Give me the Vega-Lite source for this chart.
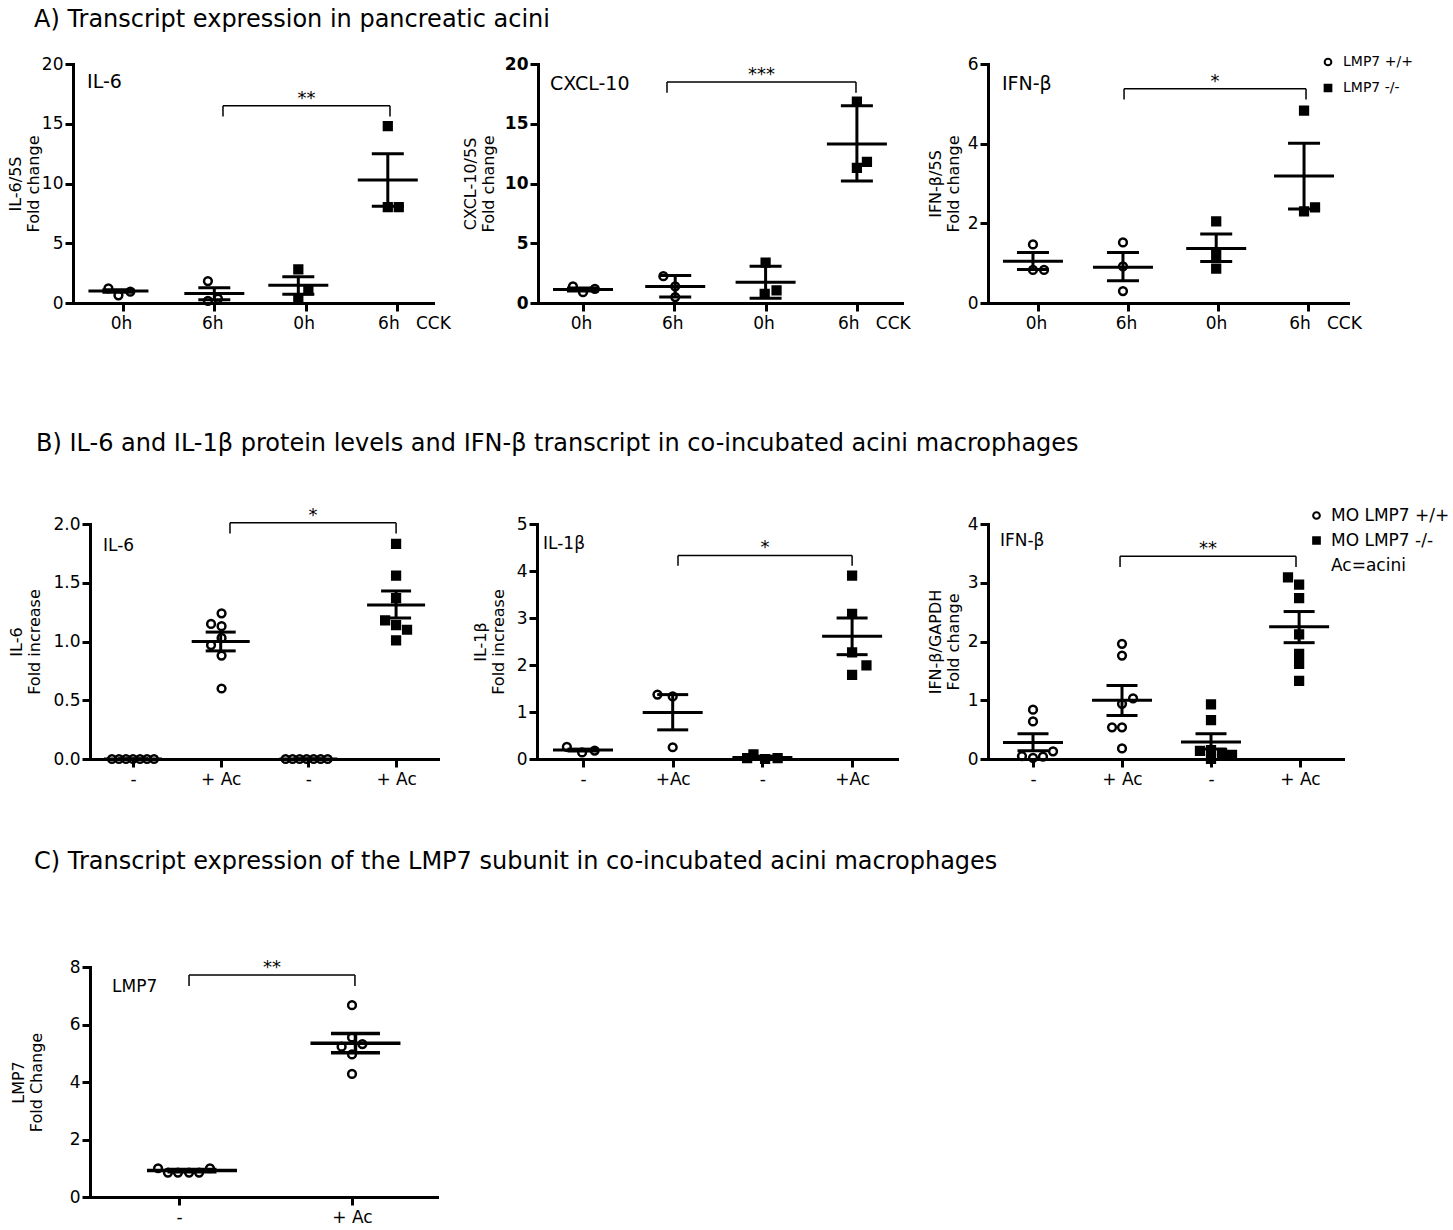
{
  "$schema": "https://vega.github.io/schema/vega-lite/v6.json",
  "background": "white",
  "padding": {"left": 0, "top": 8, "right": 5, "bottom": 5},
  "config": {
    "font": "DejaVu Sans",
    "view": {"stroke": null},
    "axis": {"domainColor": "black", "domainWidth": 3, "domainCap": "square", "tickColor": "black", "tickWidth": 3, "tickSize": 8, "labelColor": "black", "titleColor": "black", "grid": false, "labelFontSize": 17, "titleFontSize": 16, "titleFontWeight": "normal", "titleLineHeight": 18, "labelPadding": 3},
    "title": {"fontSize": 24, "fontWeight": "normal", "color": "black", "anchor": "start"},
    "legend": {"labelColor": "black"}
  },
  "title": {"text": "A) Transcript expression in pancreatic acini", "anchor": "start", "fontSize": 24, "offset": 23, "dx": 34},
  "spacing": 50,
  "resolve": {"scale": {"shape": "independent", "fill": "independent", "stroke": "independent"}},
  "datasets": {
    "a1_pts": [
      {"x": 0.84, "y": 1.23, "geno": "LMP7 +/+"}, {"x": 0.95, "y": 0.64, "geno": "LMP7 +/+"}, {"x": 1.08, "y": 0.95, "geno": "LMP7 +/+"},
      {"x": 1.93, "y": 1.84, "geno": "LMP7 +/+"}, {"x": 1.93, "y": 0.17, "geno": "LMP7 +/+"}, {"x": 2.04, "y": 0.36, "geno": "LMP7 +/+"},
      {"x": 2.92, "y": 2.82, "geno": "LMP7 -/-"}, {"x": 3.03, "y": 1.06, "geno": "LMP7 -/-"}, {"x": 2.92, "y": 0.31, "geno": "LMP7 -/-"},
      {"x": 3.9, "y": 14.8, "geno": "LMP7 -/-"}, {"x": 3.9, "y": 8.03, "geno": "LMP7 -/-"}, {"x": 4.02, "y": 8.03, "geno": "LMP7 -/-"}
    ],
    "a1_sum": [
      {"x": 0.95, "mean": 1.0, "lo": 0.9, "hi": 1.1}, {"x": 2.0, "mean": 0.79, "lo": 0.28, "hi": 1.28},
      {"x": 2.92, "mean": 1.48, "lo": 0.73, "hi": 2.2}, {"x": 3.9, "mean": 10.3, "lo": 8.09, "hi": 12.5}
    ],
    "a1_br": [{"x1": 2.095, "x2": 3.924, "top": 16.5, "bottom": 15.6, "stars": "**"}],
    "a2_pts": [
      {"x": 0.89, "y": 1.4, "geno": "LMP7 +/+"}, {"x": 1.0, "y": 0.9, "geno": "LMP7 +/+"}, {"x": 1.13, "y": 1.18, "geno": "LMP7 +/+"},
      {"x": 1.88, "y": 2.24, "geno": "LMP7 +/+"}, {"x": 2.01, "y": 1.4, "geno": "LMP7 +/+"}, {"x": 2.01, "y": 0.5, "geno": "LMP7 +/+"},
      {"x": 3.0, "y": 3.37, "geno": "LMP7 -/-"}, {"x": 3.12, "y": 1.06, "geno": "LMP7 -/-"}, {"x": 2.99, "y": 0.76, "geno": "LMP7 -/-"},
      {"x": 4.0, "y": 16.85, "geno": "LMP7 -/-"}, {"x": 4.11, "y": 11.8, "geno": "LMP7 -/-"}, {"x": 4.0, "y": 11.3, "geno": "LMP7 -/-"}
    ],
    "a2_sum": [
      {"x": 1.0, "mean": 1.12, "lo": 1.0, "hi": 1.25}, {"x": 2.01, "mean": 1.38, "lo": 0.5, "hi": 2.3},
      {"x": 3.0, "mean": 1.74, "lo": 0.39, "hi": 3.08}, {"x": 4.0, "mean": 13.3, "lo": 10.2, "hi": 16.5}
    ],
    "a2_br": [{"x1": 1.92, "x2": 3.99, "top": 18.5, "bottom": 17.6, "stars": "***"}],
    "a3_pts": [
      {"x": 0.944, "y": 1.47, "geno": "LMP7 +/+"}, {"x": 0.944, "y": 0.83, "geno": "LMP7 +/+"}, {"x": 1.067, "y": 0.83, "geno": "LMP7 +/+"},
      {"x": 1.944, "y": 1.52, "geno": "LMP7 +/+"}, {"x": 1.944, "y": 0.92, "geno": "LMP7 +/+"}, {"x": 1.944, "y": 0.3, "geno": "LMP7 +/+"},
      {"x": 2.98, "y": 2.05, "geno": "LMP7 -/-"}, {"x": 2.98, "y": 1.21, "geno": "LMP7 -/-"}, {"x": 2.98, "y": 0.86, "geno": "LMP7 -/-"},
      {"x": 3.956, "y": 4.83, "geno": "LMP7 -/-"}, {"x": 3.956, "y": 2.3, "geno": "LMP7 -/-"}, {"x": 4.078, "y": 2.4, "geno": "LMP7 -/-"}
    ],
    "a3_sum": [
      {"x": 0.944, "mean": 1.05, "lo": 0.84, "hi": 1.27}, {"x": 1.944, "mean": 0.9, "lo": 0.56, "hi": 1.27},
      {"x": 2.98, "mean": 1.37, "lo": 1.04, "hi": 1.73}, {"x": 3.956, "mean": 3.19, "lo": 2.36, "hi": 4.01}
    ],
    "a3_br": [{"x1": 1.956, "x2": 3.978, "top": 5.38, "bottom": 5.11, "stars": "*"}],
    "b1_pts": [
      {"x": 0.76, "y": 0, "geno": "MO LMP7 +/+"}, {"x": 0.84, "y": 0, "geno": "MO LMP7 +/+"}, {"x": 0.92, "y": 0, "geno": "MO LMP7 +/+"}, {"x": 1.0, "y": 0, "geno": "MO LMP7 +/+"}, {"x": 1.08, "y": 0, "geno": "MO LMP7 +/+"}, {"x": 1.16, "y": 0, "geno": "MO LMP7 +/+"}, {"x": 1.24, "y": 0, "geno": "MO LMP7 +/+"},
      {"x": 2.01, "y": 1.24, "geno": "MO LMP7 +/+"}, {"x": 1.89, "y": 1.15, "geno": "MO LMP7 +/+"}, {"x": 2.01, "y": 1.13, "geno": "MO LMP7 +/+"}, {"x": 2.01, "y": 1.03, "geno": "MO LMP7 +/+"}, {"x": 1.89, "y": 0.97, "geno": "MO LMP7 +/+"}, {"x": 2.01, "y": 0.88, "geno": "MO LMP7 +/+"}, {"x": 2.01, "y": 0.6, "geno": "MO LMP7 +/+"},
      {"x": 2.74, "y": 0, "geno": "MO LMP7 +/+"}, {"x": 2.82, "y": 0, "geno": "MO LMP7 +/+"}, {"x": 2.9, "y": 0, "geno": "MO LMP7 +/+"}, {"x": 2.98, "y": 0, "geno": "MO LMP7 +/+"}, {"x": 3.06, "y": 0, "geno": "MO LMP7 +/+"}, {"x": 3.14, "y": 0, "geno": "MO LMP7 +/+"}, {"x": 3.22, "y": 0, "geno": "MO LMP7 +/+"},
      {"x": 4.0, "y": 1.83, "geno": "MO LMP7 -/-"}, {"x": 4.0, "y": 1.56, "geno": "MO LMP7 -/-"}, {"x": 4.0, "y": 1.37, "geno": "MO LMP7 -/-"}, {"x": 3.875, "y": 1.18, "geno": "MO LMP7 -/-"}, {"x": 4.0, "y": 1.14, "geno": "MO LMP7 -/-"}, {"x": 4.125, "y": 1.1, "geno": "MO LMP7 -/-"}, {"x": 4.0, "y": 1.01, "geno": "MO LMP7 -/-"}
    ],
    "b1_sum": [
      {"x": 1.0, "mean": 0, "lo": 0, "hi": 0}, {"x": 2.0, "mean": 1.0, "lo": 0.92, "hi": 1.08},
      {"x": 3.0, "mean": 0, "lo": 0, "hi": 0}, {"x": 4.0, "mean": 1.31, "lo": 1.2, "hi": 1.43}
    ],
    "b1_br": [{"x1": 2.106, "x2": 4.0, "top": 2.01, "bottom": 1.92, "stars": "*"}],
    "b2_pts": [
      {"x": 0.82, "y": 0.26, "geno": "MO LMP7 +/+"}, {"x": 0.99, "y": 0.14, "geno": "MO LMP7 +/+"}, {"x": 1.13, "y": 0.18, "geno": "MO LMP7 +/+"},
      {"x": 1.83, "y": 1.37, "geno": "MO LMP7 +/+"}, {"x": 2.0, "y": 1.33, "geno": "MO LMP7 +/+"}, {"x": 2.0, "y": 0.25, "geno": "MO LMP7 +/+"},
      {"x": 2.83, "y": 0.02, "geno": "MO LMP7 -/-"}, {"x": 2.9, "y": 0.1, "geno": "MO LMP7 -/-"}, {"x": 3.03, "y": 0.0, "geno": "MO LMP7 -/-"}, {"x": 3.17, "y": 0.02, "geno": "MO LMP7 -/-"},
      {"x": 4.0, "y": 3.9, "geno": "MO LMP7 -/-"}, {"x": 4.0, "y": 3.09, "geno": "MO LMP7 -/-"}, {"x": 4.0, "y": 2.27, "geno": "MO LMP7 -/-"}, {"x": 4.16, "y": 1.99, "geno": "MO LMP7 -/-"}, {"x": 4.0, "y": 1.79, "geno": "MO LMP7 -/-"}
    ],
    "b2_sum": [
      {"x": 1.0, "mean": 0.19, "lo": 0.17, "hi": 0.21}, {"x": 2.0, "mean": 0.99, "lo": 0.62, "hi": 1.37},
      {"x": 3.0, "mean": 0.03, "lo": 0.0, "hi": 0.06}, {"x": 4.0, "mean": 2.61, "lo": 2.22, "hi": 3.0}
    ],
    "b2_br": [{"x1": 2.059, "x2": 4.0, "top": 4.33, "bottom": 4.11, "stars": "*"}],
    "b3_pts": [
      {"x": 1.0, "y": 0.84, "geno": "MO LMP7 +/+"}, {"x": 1.0, "y": 0.64, "geno": "MO LMP7 +/+"}, {"x": 1.225, "y": 0.13, "geno": "MO LMP7 +/+"}, {"x": 0.876, "y": 0.05, "geno": "MO LMP7 +/+"}, {"x": 1.112, "y": 0.04, "geno": "MO LMP7 +/+"}, {"x": 1.0, "y": 0.02, "geno": "MO LMP7 +/+"},
      {"x": 2.0, "y": 1.96, "geno": "MO LMP7 +/+"}, {"x": 2.0, "y": 1.76, "geno": "MO LMP7 +/+"}, {"x": 2.124, "y": 1.03, "geno": "MO LMP7 +/+"}, {"x": 2.0, "y": 0.94, "geno": "MO LMP7 +/+"}, {"x": 1.888, "y": 0.54, "geno": "MO LMP7 +/+"}, {"x": 2.0, "y": 0.54, "geno": "MO LMP7 +/+"}, {"x": 2.0, "y": 0.18, "geno": "MO LMP7 +/+"},
      {"x": 3.0, "y": 0.93, "geno": "MO LMP7 -/-"}, {"x": 3.0, "y": 0.66, "geno": "MO LMP7 -/-"}, {"x": 2.876, "y": 0.14, "geno": "MO LMP7 -/-"}, {"x": 3.0, "y": 0.15, "geno": "MO LMP7 -/-"}, {"x": 3.124, "y": 0.1, "geno": "MO LMP7 -/-"}, {"x": 3.236, "y": 0.07, "geno": "MO LMP7 -/-"}, {"x": 3.0, "y": 0.0, "geno": "MO LMP7 -/-"},
      {"x": 3.865, "y": 3.09, "geno": "MO LMP7 -/-"}, {"x": 3.99, "y": 2.97, "geno": "MO LMP7 -/-"}, {"x": 3.99, "y": 2.74, "geno": "MO LMP7 -/-"}, {"x": 3.99, "y": 2.12, "geno": "MO LMP7 -/-"}, {"x": 3.99, "y": 1.79, "geno": "MO LMP7 -/-"}, {"x": 3.99, "y": 1.62, "geno": "MO LMP7 -/-"}, {"x": 3.99, "y": 1.33, "geno": "MO LMP7 -/-"}
    ],
    "b3_sum": [
      {"x": 1.0, "mean": 0.28, "lo": 0.14, "hi": 0.43}, {"x": 2.0, "mean": 1.0, "lo": 0.74, "hi": 1.25},
      {"x": 3.0, "mean": 0.29, "lo": 0.17, "hi": 0.43}, {"x": 3.99, "mean": 2.25, "lo": 1.98, "hi": 2.51}
    ],
    "b3_br": [{"x1": 1.978, "x2": 3.955, "top": 3.45, "bottom": 3.27, "stars": "**"}],
    "c1_pts": [
      {"x": 0.879, "y": 1.0, "geno": "LMP7 +/+"}, {"x": 0.936, "y": 0.85, "geno": "LMP7 +/+"}, {"x": 0.994, "y": 0.85, "geno": "LMP7 +/+"}, {"x": 1.058, "y": 0.85, "geno": "LMP7 +/+"}, {"x": 1.116, "y": 0.85, "geno": "LMP7 +/+"}, {"x": 1.179, "y": 1.0, "geno": "LMP7 +/+"},
      {"x": 2.0, "y": 6.67, "geno": "LMP7 +/+"}, {"x": 2.0, "y": 5.55, "geno": "LMP7 +/+"}, {"x": 1.94, "y": 5.23, "geno": "LMP7 +/+"}, {"x": 2.06, "y": 5.32, "geno": "LMP7 +/+"}, {"x": 2.0, "y": 4.96, "geno": "LMP7 +/+"}, {"x": 2.0, "y": 4.28, "geno": "LMP7 +/+"}
    ],
    "c1_sum": [
      {"x": 1.075, "mean": 0.92, "lo": 0.88, "hi": 0.96}, {"x": 2.02, "mean": 5.35, "lo": 5.02, "hi": 5.69}
    ],
    "c1_br": [{"x1": 1.058, "x2": 2.017, "top": 7.72, "bottom": 7.34, "stars": "**"}]
  },
  "vconcat": [
    {
      "bounds": "flush",
      "spacing": 0,
      "title": {"text": "B)  IL-6 and IL-1β protein levels and IFN-β transcript in co-incubated acini macrophages", "orient": "bottom", "anchor": "start", "fontSize": 24, "offset": 101, "dx": 36},
      "resolve": {"scale": {"shape": "independent", "fill": "independent", "stroke": "independent"}},
      "hconcat": [
        {"width": 73, "height": 1, "view": {"fill": "transparent", "stroke": null}, "data": {"values": []}, "mark": {"type": "point"}, "encoding": {}},
        {
          "width": 360, "height": 239,
          "layer": [
            {"data": {"name": "a1_pts"}, "mark": {"type": "point", "size": 60, "strokeWidth": 2.5, "opacity": 1},
             "encoding": {
               "x": {"field": "x", "type": "quantitative", "scale": {"domain": [0.4524, 4.395], "nice": false, "zero": false},
                     "axis": {"values": [1, 2, 3, 4], "title": null, "labelExpr": "datum.value == 1 ? '0h' : datum.value == 2 ? '6h' : datum.value == 3 ? '0h' : '6h\u00a0\u00a0\u00a0CCK'", "labelOffset": {"condition": {"test": "datum.value == 4", "value": 17}, "value": -2}, "labelOverlap": false, "labelFlush": false, "labelBound": false, "labelPadding": 4}},
               "y": {"field": "y", "type": "quantitative", "scale": {"domain": [0, 20], "nice": false}, "axis": {"values": [0, 5, 10, 15, 20], "format": "d", "title": ["IL-6/5S", "Fold change"], "titlePadding": 0, "labelPadding": 2}},
               "shape": {"field": "geno", "type": "nominal", "scale": {"domain": ["LMP7 +/+", "LMP7 -/-"], "range": ["circle", "square"]}, "legend": null},
               "fill": {"field": "geno", "type": "nominal", "scale": {"domain": ["LMP7 +/+", "LMP7 -/-"], "range": ["transparent", "black"]}, "legend": null},
               "stroke": {"field": "geno", "type": "nominal", "scale": {"domain": ["LMP7 +/+", "LMP7 -/-"], "range": ["black", "black"]}, "legend": null}
             }},
            {"data": {"name": "a1_sum"}, "mark": {"type": "tick", "orient": "horizontal", "size": 60, "thickness": 3, "color": "black", "opacity": 1},
             "encoding": {"x": {"field": "x", "type": "quantitative"}, "y": {"field": "mean", "type": "quantitative"}}},
            {"data": {"name": "a1_sum"}, "mark": {"type": "rule", "strokeWidth": 3, "color": "black"},
             "encoding": {"x": {"field": "x", "type": "quantitative"}, "y": {"field": "lo", "type": "quantitative"}, "y2": {"field": "hi"}}},
            {"data": {"name": "a1_sum"}, "transform": [{"fold": ["lo", "hi"], "as": ["end", "v"]}], "mark": {"type": "tick", "orient": "horizontal", "size": 32, "thickness": 3, "color": "black", "opacity": 1},
             "encoding": {"x": {"field": "x", "type": "quantitative"}, "y": {"field": "v", "type": "quantitative"}}},
            {"data": {"name": "a1_br"}, "mark": {"type": "rule", "strokeWidth": 1.5, "color": "black"},
             "encoding": {"x": {"field": "x1", "type": "quantitative"}, "x2": {"field": "x2"}, "y": {"field": "top", "type": "quantitative"}}},
            {"data": {"name": "a1_br"}, "transform": [{"fold": ["x1", "x2"], "as": ["end", "bx"]}], "mark": {"type": "rule", "strokeWidth": 1.5, "color": "black"},
             "encoding": {"x": {"field": "bx", "type": "quantitative"}, "y": {"field": "top", "type": "quantitative"}, "y2": {"field": "bottom"}}},
            {"data": {"name": "a1_br"}, "transform": [{"calculate": "(datum.x1 + datum.x2) / 2", "as": "xm"}], "mark": {"type": "text", "fontSize": 18, "baseline": "alphabetic", "dy": -2},
             "encoding": {"x": {"field": "xm", "type": "quantitative"}, "y": {"field": "top", "type": "quantitative"}, "text": {"field": "stars"}}},
            {"data": {"name": "a1_br"}, "mark": {"type": "text", "text": "IL-6", "fontSize": 19, "align": "left", "baseline": "alphabetic"},
             "encoding": {"x": {"datum": 0.606, "type": "quantitative"}, "y": {"datum": 17.99, "type": "quantitative"}}}
          ]
        },
        {"width": 105, "height": 1, "view": {"fill": "transparent", "stroke": null}, "data": {"values": []}, "mark": {"type": "point"}, "encoding": {}},
        {
          "width": 364, "height": 239,
          "layer": [
            {"data": {"name": "a2_pts"}, "mark": {"type": "point", "size": 60, "strokeWidth": 2.5, "opacity": 1},
             "encoding": {
               "x": {"field": "x", "type": "quantitative", "scale": {"domain": [0.5071, 4.494], "nice": false, "zero": false},
                     "axis": {"values": [1, 2, 3, 4], "title": null, "labelExpr": "datum.value == 1 ? '0h' : datum.value == 2 ? '6h' : datum.value == 3 ? '0h' : '6h\u00a0\u00a0\u00a0CCK'", "labelOffset": {"condition": {"test": "datum.value == 4", "value": 17}, "value": -2}, "labelOverlap": false, "labelFlush": false, "labelBound": false, "labelPadding": 4}},
               "y": {"field": "y", "type": "quantitative", "scale": {"domain": [0, 20], "nice": false}, "axis": {"values": [0, 5, 10, 15, 20], "format": "d", "title": ["CXCL-10/5S", "Fold change"], "titlePadding": 8, "labelPadding": 2, "labelFontWeight": "bold"}},
               "shape": {"field": "geno", "type": "nominal", "scale": {"domain": ["LMP7 +/+", "LMP7 -/-"], "range": ["circle", "square"]}, "legend": null},
               "fill": {"field": "geno", "type": "nominal", "scale": {"domain": ["LMP7 +/+", "LMP7 -/-"], "range": ["transparent", "black"]}, "legend": null},
               "stroke": {"field": "geno", "type": "nominal", "scale": {"domain": ["LMP7 +/+", "LMP7 -/-"], "range": ["black", "black"]}, "legend": null}
             }},
            {"data": {"name": "a2_sum"}, "mark": {"type": "tick", "orient": "horizontal", "size": 60, "thickness": 3, "color": "black", "opacity": 1},
             "encoding": {"x": {"field": "x", "type": "quantitative"}, "y": {"field": "mean", "type": "quantitative"}}},
            {"data": {"name": "a2_sum"}, "mark": {"type": "rule", "strokeWidth": 3, "color": "black"},
             "encoding": {"x": {"field": "x", "type": "quantitative"}, "y": {"field": "lo", "type": "quantitative"}, "y2": {"field": "hi"}}},
            {"data": {"name": "a2_sum"}, "transform": [{"fold": ["lo", "hi"], "as": ["end", "v"]}], "mark": {"type": "tick", "orient": "horizontal", "size": 32, "thickness": 3, "color": "black", "opacity": 1},
             "encoding": {"x": {"field": "x", "type": "quantitative"}, "y": {"field": "v", "type": "quantitative"}}},
            {"data": {"name": "a2_br"}, "mark": {"type": "rule", "strokeWidth": 1.5, "color": "black"},
             "encoding": {"x": {"field": "x1", "type": "quantitative"}, "x2": {"field": "x2"}, "y": {"field": "top", "type": "quantitative"}}},
            {"data": {"name": "a2_br"}, "transform": [{"fold": ["x1", "x2"], "as": ["end", "bx"]}], "mark": {"type": "rule", "strokeWidth": 1.5, "color": "black"},
             "encoding": {"x": {"field": "bx", "type": "quantitative"}, "y": {"field": "top", "type": "quantitative"}, "y2": {"field": "bottom"}}},
            {"data": {"name": "a2_br"}, "transform": [{"calculate": "(datum.x1 + datum.x2) / 2", "as": "xm"}], "mark": {"type": "text", "fontSize": 18, "baseline": "alphabetic", "dy": -2},
             "encoding": {"x": {"field": "xm", "type": "quantitative"}, "y": {"field": "top", "type": "quantitative"}, "text": {"field": "stars"}}},
            {"data": {"name": "a2_br"}, "mark": {"type": "text", "text": "CXCL-10", "fontSize": 19, "align": "left", "baseline": "alphabetic"},
             "encoding": {"x": {"datum": 0.639, "type": "quantitative"}, "y": {"datum": 17.82, "type": "quantitative"}}}
          ]
        },
        {"width": 86, "height": 1, "view": {"fill": "transparent", "stroke": null}, "data": {"values": []}, "mark": {"type": "point"}, "encoding": {}},
        {
          "width": 360, "height": 239,
          "layer": [
            {"data": {"name": "a3_pts"}, "mark": {"type": "point", "size": 60, "strokeWidth": 2.5, "opacity": 1},
             "encoding": {
               "x": {"field": "x", "type": "quantitative", "scale": {"domain": [0.4444, 4.4444], "nice": false, "zero": false},
                     "axis": {"values": [1, 2, 3, 4], "title": null, "labelExpr": "datum.value == 1 ? '0h' : datum.value == 2 ? '6h' : datum.value == 3 ? '0h' : '6h\u00a0\u00a0\u00a0CCK'", "labelOffset": {"condition": {"test": "datum.value == 4", "value": 17}, "value": -2}, "labelOverlap": false, "labelFlush": false, "labelBound": false, "labelPadding": 4}},
               "y": {"field": "y", "type": "quantitative", "scale": {"domain": [0, 6], "nice": false}, "axis": {"values": [0, 2, 4, 6], "format": "d", "title": ["IFN-β/5S", "Fold change"], "titlePadding": 6, "labelPadding": 2}},
               "shape": {"field": "geno", "type": "nominal", "scale": {"domain": ["LMP7 +/+", "LMP7 -/-"], "range": ["circle", "square"]},
                         "legend": {"title": null, "orient": "none", "legendX": 333, "legendY": -9, "labelFontSize": 14, "symbolSize": 45, "symbolStrokeWidth": 2, "rowPadding": 10, "padding": 0, "labelOffset": 8}},
               "fill": {"field": "geno", "type": "nominal", "scale": {"domain": ["LMP7 +/+", "LMP7 -/-"], "range": ["transparent", "black"]},
                         "legend": {"title": null, "orient": "none", "legendX": 333, "legendY": -9, "labelFontSize": 14, "symbolSize": 45, "symbolStrokeWidth": 2, "rowPadding": 10, "padding": 0, "labelOffset": 8}},
               "stroke": {"field": "geno", "type": "nominal", "scale": {"domain": ["LMP7 +/+", "LMP7 -/-"], "range": ["black", "black"]},
                         "legend": {"title": null, "orient": "none", "legendX": 333, "legendY": -9, "labelFontSize": 14, "symbolSize": 45, "symbolStrokeWidth": 2, "rowPadding": 10, "padding": 0, "labelOffset": 8}}
             }},
            {"data": {"name": "a3_sum"}, "mark": {"type": "tick", "orient": "horizontal", "size": 60, "thickness": 3, "color": "black", "opacity": 1},
             "encoding": {"x": {"field": "x", "type": "quantitative"}, "y": {"field": "mean", "type": "quantitative"}}},
            {"data": {"name": "a3_sum"}, "mark": {"type": "rule", "strokeWidth": 3, "color": "black"},
             "encoding": {"x": {"field": "x", "type": "quantitative"}, "y": {"field": "lo", "type": "quantitative"}, "y2": {"field": "hi"}}},
            {"data": {"name": "a3_sum"}, "transform": [{"fold": ["lo", "hi"], "as": ["end", "v"]}], "mark": {"type": "tick", "orient": "horizontal", "size": 32, "thickness": 3, "color": "black", "opacity": 1},
             "encoding": {"x": {"field": "x", "type": "quantitative"}, "y": {"field": "v", "type": "quantitative"}}},
            {"data": {"name": "a3_br"}, "mark": {"type": "rule", "strokeWidth": 1.5, "color": "black"},
             "encoding": {"x": {"field": "x1", "type": "quantitative"}, "x2": {"field": "x2"}, "y": {"field": "top", "type": "quantitative"}}},
            {"data": {"name": "a3_br"}, "transform": [{"fold": ["x1", "x2"], "as": ["end", "bx"]}], "mark": {"type": "rule", "strokeWidth": 1.5, "color": "black"},
             "encoding": {"x": {"field": "bx", "type": "quantitative"}, "y": {"field": "top", "type": "quantitative"}, "y2": {"field": "bottom"}}},
            {"data": {"name": "a3_br"}, "transform": [{"calculate": "(datum.x1 + datum.x2) / 2", "as": "xm"}], "mark": {"type": "text", "fontSize": 18, "baseline": "alphabetic", "dy": -2},
             "encoding": {"x": {"field": "xm", "type": "quantitative"}, "y": {"field": "top", "type": "quantitative"}, "text": {"field": "stars"}}},
            {"data": {"name": "a3_br"}, "mark": {"type": "text", "text": "IFN-β", "fontSize": 19, "align": "left", "baseline": "alphabetic"},
             "encoding": {"x": {"datum": 0.6, "type": "quantitative"}, "y": {"datum": 5.35, "type": "quantitative"}}}
          ]
        }
      ]
    },
    {
      "spacing": 63,
      "resolve": {"scale": {"shape": "independent", "fill": "independent", "stroke": "independent"}},
      "vconcat": [
        {
          "bounds": "flush",
          "spacing": 0,
          "resolve": {"scale": {"shape": "independent", "fill": "independent", "stroke": "independent"}},
          "hconcat": [
            {"width": 90, "height": 1, "view": {"fill": "transparent", "stroke": null}, "data": {"values": []}, "mark": {"type": "point"}, "encoding": {}},
            {
              "width": 348, "height": 235,
              "layer": [
                {"data": {"name": "b1_pts"}, "mark": {"type": "point", "size": 60, "strokeWidth": 2.5, "opacity": 1},
                 "encoding": {
                   "x": {"field": "x", "type": "quantitative", "scale": {"domain": [0.5097, 4.478], "nice": false, "zero": false},
                         "axis": {"values": [1, 2, 3, 4], "title": null, "labelExpr": "datum.value == 2 || datum.value == 4 ? '+ Ac' : '-'", "labelOverlap": false, "labelFlush": false, "labelBound": false, "labelPadding": 4}},
                   "y": {"field": "y", "type": "quantitative", "scale": {"domain": [0, 2], "nice": false}, "axis": {"values": [0, 0.5, 1, 1.5, 2], "format": ".1f", "title": ["IL-6", "Fold increase"], "titlePadding": 10, "labelPadding": 2}},
                   "shape": {"field": "geno", "type": "nominal", "scale": {"domain": ["MO LMP7 +/+", "MO LMP7 -/-"], "range": ["circle", "square"]}, "legend": null},
                   "fill": {"field": "geno", "type": "nominal", "scale": {"domain": ["MO LMP7 +/+", "MO LMP7 -/-"], "range": ["transparent", "black"]}, "legend": null},
                   "stroke": {"field": "geno", "type": "nominal", "scale": {"domain": ["MO LMP7 +/+", "MO LMP7 -/-"], "range": ["black", "black"]}, "legend": null}
                 }},
                {"data": {"name": "b1_sum"}, "mark": {"type": "tick", "orient": "horizontal", "size": 58, "thickness": 3, "color": "black", "opacity": 1},
                 "encoding": {"x": {"field": "x", "type": "quantitative"}, "y": {"field": "mean", "type": "quantitative"}}},
                {"data": {"name": "b1_sum"}, "mark": {"type": "rule", "strokeWidth": 3, "color": "black"},
                 "encoding": {"x": {"field": "x", "type": "quantitative"}, "y": {"field": "lo", "type": "quantitative"}, "y2": {"field": "hi"}}},
                {"data": {"name": "b1_sum"}, "transform": [{"fold": ["lo", "hi"], "as": ["end", "v"]}], "mark": {"type": "tick", "orient": "horizontal", "size": 30, "thickness": 3, "color": "black", "opacity": 1},
                 "encoding": {"x": {"field": "x", "type": "quantitative"}, "y": {"field": "v", "type": "quantitative"}}},
                {"data": {"name": "b1_br"}, "mark": {"type": "rule", "strokeWidth": 1.5, "color": "black"},
                 "encoding": {"x": {"field": "x1", "type": "quantitative"}, "x2": {"field": "x2"}, "y": {"field": "top", "type": "quantitative"}}},
                {"data": {"name": "b1_br"}, "transform": [{"fold": ["x1", "x2"], "as": ["end", "bx"]}], "mark": {"type": "rule", "strokeWidth": 1.5, "color": "black"},
                 "encoding": {"x": {"field": "bx", "type": "quantitative"}, "y": {"field": "top", "type": "quantitative"}, "y2": {"field": "bottom"}}},
                {"data": {"name": "b1_br"}, "transform": [{"calculate": "(datum.x1 + datum.x2) / 2", "as": "xm"}], "mark": {"type": "text", "fontSize": 18, "baseline": "alphabetic", "dy": -2},
                 "encoding": {"x": {"field": "xm", "type": "quantitative"}, "y": {"field": "top", "type": "quantitative"}, "text": {"field": "stars"}}},
                {"data": {"name": "b1_br"}, "mark": {"type": "text", "text": "IL-6", "fontSize": 17, "align": "left", "baseline": "alphabetic"},
                 "encoding": {"x": {"datum": 0.658, "type": "quantitative"}, "y": {"datum": 1.77, "type": "quantitative"}}}
              ]
            },
            {"width": 99, "height": 1, "view": {"fill": "transparent", "stroke": null}, "data": {"values": []}, "mark": {"type": "point"}, "encoding": {}},
            {
              "width": 360, "height": 235,
              "layer": [
                {"data": {"name": "b2_pts"}, "mark": {"type": "point", "size": 60, "strokeWidth": 2.5, "opacity": 1},
                 "encoding": {
                   "x": {"field": "x", "type": "quantitative", "scale": {"domain": [0.4872, 4.5006], "nice": false, "zero": false},
                         "axis": {"values": [1, 2, 3, 4], "title": null, "labelExpr": "datum.value == 2 || datum.value == 4 ? '+Ac' : '-'", "labelOverlap": false, "labelFlush": false, "labelBound": false, "labelPadding": 4}},
                   "y": {"field": "y", "type": "quantitative", "scale": {"domain": [0, 5], "nice": false}, "axis": {"values": [0, 1, 2, 3, 4, 5], "format": "d", "title": ["IL-1β", "Fold increase"], "titlePadding": 10, "labelPadding": 2}},
                   "shape": {"field": "geno", "type": "nominal", "scale": {"domain": ["MO LMP7 +/+", "MO LMP7 -/-"], "range": ["circle", "square"]}, "legend": null},
                   "fill": {"field": "geno", "type": "nominal", "scale": {"domain": ["MO LMP7 +/+", "MO LMP7 -/-"], "range": ["transparent", "black"]}, "legend": null},
                   "stroke": {"field": "geno", "type": "nominal", "scale": {"domain": ["MO LMP7 +/+", "MO LMP7 -/-"], "range": ["black", "black"]}, "legend": null}
                 }},
                {"data": {"name": "b2_sum"}, "mark": {"type": "tick", "orient": "horizontal", "size": 60, "thickness": 3, "color": "black", "opacity": 1},
                 "encoding": {"x": {"field": "x", "type": "quantitative"}, "y": {"field": "mean", "type": "quantitative"}}},
                {"data": {"name": "b2_sum"}, "mark": {"type": "rule", "strokeWidth": 3, "color": "black"},
                 "encoding": {"x": {"field": "x", "type": "quantitative"}, "y": {"field": "lo", "type": "quantitative"}, "y2": {"field": "hi"}}},
                {"data": {"name": "b2_sum"}, "transform": [{"fold": ["lo", "hi"], "as": ["end", "v"]}], "mark": {"type": "tick", "orient": "horizontal", "size": 31, "thickness": 3, "color": "black", "opacity": 1},
                 "encoding": {"x": {"field": "x", "type": "quantitative"}, "y": {"field": "v", "type": "quantitative"}}},
                {"data": {"name": "b2_br"}, "mark": {"type": "rule", "strokeWidth": 1.5, "color": "black"},
                 "encoding": {"x": {"field": "x1", "type": "quantitative"}, "x2": {"field": "x2"}, "y": {"field": "top", "type": "quantitative"}}},
                {"data": {"name": "b2_br"}, "transform": [{"fold": ["x1", "x2"], "as": ["end", "bx"]}], "mark": {"type": "rule", "strokeWidth": 1.5, "color": "black"},
                 "encoding": {"x": {"field": "bx", "type": "quantitative"}, "y": {"field": "top", "type": "quantitative"}, "y2": {"field": "bottom"}}},
                {"data": {"name": "b2_br"}, "transform": [{"calculate": "(datum.x1 + datum.x2) / 2", "as": "xm"}], "mark": {"type": "text", "fontSize": 18, "baseline": "alphabetic", "dy": -2},
                 "encoding": {"x": {"field": "xm", "type": "quantitative"}, "y": {"field": "top", "type": "quantitative"}, "text": {"field": "stars"}}},
                {"data": {"name": "b2_br"}, "mark": {"type": "text", "text": "IL-1β", "fontSize": 17, "align": "left", "baseline": "alphabetic"},
                 "encoding": {"x": {"datum": 0.554, "type": "quantitative"}, "y": {"datum": 4.47, "type": "quantitative"}}}
              ]
            },
            {"width": 91, "height": 1, "view": {"fill": "transparent", "stroke": null}, "data": {"values": []}, "mark": {"type": "point"}, "encoding": {}},
            {
              "width": 355, "height": 235,
              "layer": [
                {"data": {"name": "b3_pts"}, "mark": {"type": "point", "size": 60, "strokeWidth": 2.5, "opacity": 1},
                 "encoding": {
                   "x": {"field": "x", "type": "quantitative", "scale": {"domain": [0.4944, 4.483], "nice": false, "zero": false},
                         "axis": {"values": [1, 2, 3, 4], "title": null, "labelExpr": "datum.value == 2 || datum.value == 4 ? '+ Ac' : '-'", "labelOverlap": false, "labelFlush": false, "labelBound": false, "labelPadding": 4}},
                   "y": {"field": "y", "type": "quantitative", "scale": {"domain": [0, 4], "nice": false}, "axis": {"values": [0, 1, 2, 3, 4], "format": "d", "title": ["IFN-β/GAPDH", "Fold change"], "titlePadding": 6, "labelPadding": 2}},
                   "shape": {"field": "geno", "type": "nominal", "scale": {"domain": ["MO LMP7 +/+", "MO LMP7 -/-", "Ac=acini"], "range": ["circle", "square", "circle"]},
                             "legend": {"title": null, "orient": "none", "legendX": 320, "legendY": -17, "labelFontSize": 17, "symbolSize": 45, "symbolStrokeWidth": 2, "rowPadding": 7, "padding": 0, "labelOffset": 6}},
                   "fill": {"field": "geno", "type": "nominal", "scale": {"domain": ["MO LMP7 +/+", "MO LMP7 -/-", "Ac=acini"], "range": ["transparent", "black", "transparent"]},
                             "legend": {"title": null, "orient": "none", "legendX": 320, "legendY": -17, "labelFontSize": 17, "symbolSize": 45, "symbolStrokeWidth": 2, "rowPadding": 7, "padding": 0, "labelOffset": 6}},
                   "stroke": {"field": "geno", "type": "nominal", "scale": {"domain": ["MO LMP7 +/+", "MO LMP7 -/-", "Ac=acini"], "range": ["black", "black", "transparent"]},
                             "legend": {"title": null, "orient": "none", "legendX": 320, "legendY": -17, "labelFontSize": 17, "symbolSize": 45, "symbolStrokeWidth": 2, "rowPadding": 7, "padding": 0, "labelOffset": 6}}
                 }},
                {"data": {"name": "b3_sum"}, "mark": {"type": "tick", "orient": "horizontal", "size": 60, "thickness": 3, "color": "black", "opacity": 1},
                 "encoding": {"x": {"field": "x", "type": "quantitative"}, "y": {"field": "mean", "type": "quantitative"}}},
                {"data": {"name": "b3_sum"}, "mark": {"type": "rule", "strokeWidth": 3, "color": "black"},
                 "encoding": {"x": {"field": "x", "type": "quantitative"}, "y": {"field": "lo", "type": "quantitative"}, "y2": {"field": "hi"}}},
                {"data": {"name": "b3_sum"}, "transform": [{"fold": ["lo", "hi"], "as": ["end", "v"]}], "mark": {"type": "tick", "orient": "horizontal", "size": 31, "thickness": 3, "color": "black", "opacity": 1},
                 "encoding": {"x": {"field": "x", "type": "quantitative"}, "y": {"field": "v", "type": "quantitative"}}},
                {"data": {"name": "b3_br"}, "mark": {"type": "rule", "strokeWidth": 1.5, "color": "black"},
                 "encoding": {"x": {"field": "x1", "type": "quantitative"}, "x2": {"field": "x2"}, "y": {"field": "top", "type": "quantitative"}}},
                {"data": {"name": "b3_br"}, "transform": [{"fold": ["x1", "x2"], "as": ["end", "bx"]}], "mark": {"type": "rule", "strokeWidth": 1.5, "color": "black"},
                 "encoding": {"x": {"field": "bx", "type": "quantitative"}, "y": {"field": "top", "type": "quantitative"}, "y2": {"field": "bottom"}}},
                {"data": {"name": "b3_br"}, "transform": [{"calculate": "(datum.x1 + datum.x2) / 2", "as": "xm"}], "mark": {"type": "text", "fontSize": 18, "baseline": "alphabetic", "dy": -2},
                 "encoding": {"x": {"field": "xm", "type": "quantitative"}, "y": {"field": "top", "type": "quantitative"}, "text": {"field": "stars"}}},
                {"data": {"name": "b3_br"}, "mark": {"type": "text", "text": "IFN-β", "fontSize": 17, "align": "left", "baseline": "alphabetic"},
                 "encoding": {"x": {"datum": 0.629, "type": "quantitative"}, "y": {"datum": 3.63, "type": "quantitative"}}}
              ]
            }
          ]
        },
        {
          "bounds": "flush",
          "spacing": 0,
          "title": {"text": "C) Transcript expression of  the LMP7 subunit in co-incubated acini macrophages", "anchor": "start", "fontSize": 24, "offset": 84, "dx": 34},
          "hconcat": [
            {"width": 90, "height": 1, "view": {"fill": "transparent", "stroke": null}, "data": {"values": []}, "mark": {"type": "point"}, "encoding": {}},
            {
              "width": 347, "height": 230,
              "layer": [
                {"data": {"name": "c1_pts"}, "mark": {"type": "point", "size": 60, "strokeWidth": 2.5, "opacity": 1},
                 "encoding": {
                   "x": {"field": "x", "type": "quantitative", "scale": {"domain": [0.4855, 2.4913], "nice": false, "zero": false},
                         "axis": {"values": [1, 2], "title": null, "labelExpr": "datum.value == 2 ? '+ Ac' : '-'", "labelOverlap": false, "labelFlush": false, "labelBound": false, "labelPadding": 4}},
                   "y": {"field": "y", "type": "quantitative", "scale": {"domain": [0, 8], "nice": false}, "axis": {"values": [0, 2, 4, 6, 8], "format": "d", "title": ["LMP7", "Fold Change"], "titlePadding": 25, "labelPadding": 2}},
                   "shape": {"field": "geno", "type": "nominal", "scale": {"domain": ["LMP7 +/+"], "range": ["circle"]}, "legend": null},
                   "fill": {"field": "geno", "type": "nominal", "scale": {"domain": ["LMP7 +/+"], "range": ["transparent"]}, "legend": null},
                   "stroke": {"field": "geno", "type": "nominal", "scale": {"domain": ["LMP7 +/+"], "range": ["black"]}, "legend": null}
                 }},
                {"data": {"name": "c1_sum"}, "mark": {"type": "tick", "orient": "horizontal", "size": 90, "thickness": 3.5, "color": "black", "opacity": 1},
                 "encoding": {"x": {"field": "x", "type": "quantitative"}, "y": {"field": "mean", "type": "quantitative"}}},
                {"data": {"name": "c1_sum"}, "mark": {"type": "rule", "strokeWidth": 3.5, "color": "black"},
                 "encoding": {"x": {"field": "x", "type": "quantitative"}, "y": {"field": "lo", "type": "quantitative"}, "y2": {"field": "hi"}}},
                {"data": {"name": "c1_sum"}, "transform": [{"fold": ["lo", "hi"], "as": ["end", "v"]}], "mark": {"type": "tick", "orient": "horizontal", "size": 49, "thickness": 3.5, "color": "black", "opacity": 1},
                 "encoding": {"x": {"field": "x", "type": "quantitative"}, "y": {"field": "v", "type": "quantitative"}}},
                {"data": {"name": "c1_br"}, "mark": {"type": "rule", "strokeWidth": 1.5, "color": "black"},
                 "encoding": {"x": {"field": "x1", "type": "quantitative"}, "x2": {"field": "x2"}, "y": {"field": "top", "type": "quantitative"}}},
                {"data": {"name": "c1_br"}, "transform": [{"fold": ["x1", "x2"], "as": ["end", "bx"]}], "mark": {"type": "rule", "strokeWidth": 1.5, "color": "black"},
                 "encoding": {"x": {"field": "bx", "type": "quantitative"}, "y": {"field": "top", "type": "quantitative"}, "y2": {"field": "bottom"}}},
                {"data": {"name": "c1_br"}, "transform": [{"calculate": "(datum.x1 + datum.x2) / 2", "as": "xm"}], "mark": {"type": "text", "fontSize": 18, "baseline": "alphabetic", "dy": -2},
                 "encoding": {"x": {"field": "xm", "type": "quantitative"}, "y": {"field": "top", "type": "quantitative"}, "text": {"field": "stars"}}},
                {"data": {"name": "c1_br"}, "mark": {"type": "text", "text": "LMP7", "fontSize": 17, "align": "left", "baseline": "alphabetic"},
                 "encoding": {"x": {"datum": 0.613, "type": "quantitative"}, "y": {"datum": 7.13, "type": "quantitative"}}}
              ]
            }
          ]
        }
      ]
    }
  ]
}
